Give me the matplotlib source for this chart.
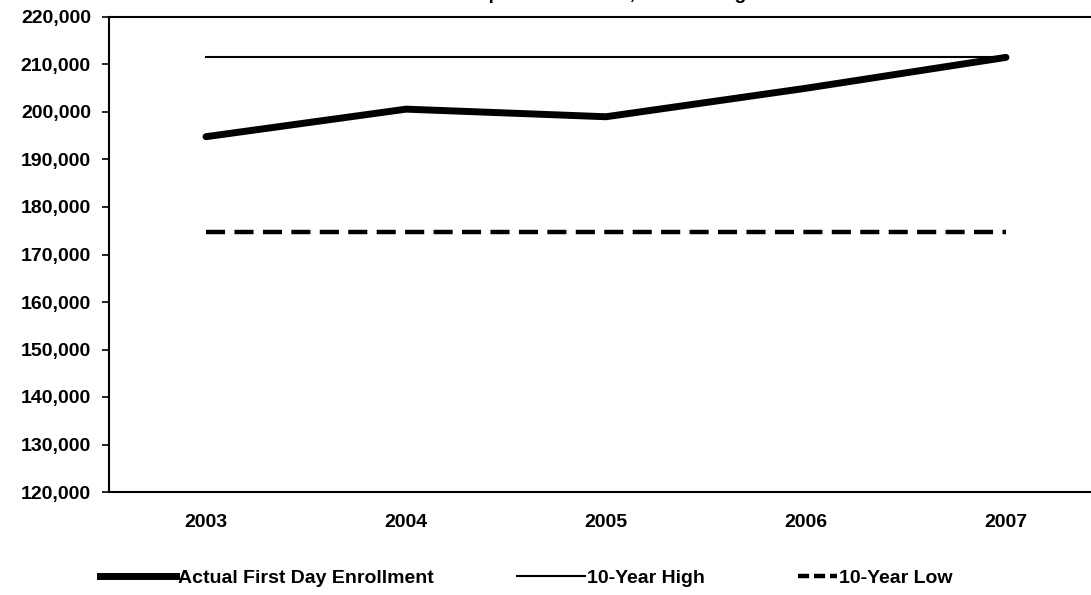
import matplotlib
matplotlib.use("Agg")
import matplotlib.pyplot as plt
from matplotlib.ticker import FuncFormatter
from matplotlib.lines import Line2D

years = ["2003", "2004", "2005", "2006", "2007"]
actual = [194800, 200600, 199000, 205000, 211500]
ten_year_high = [211500, 211500, 211500, 211500, 211500]
ten_year_low = [174800, 174800, 174800, 174800, 174800]

plt.rcParams['font.family'] = ['Liberation Sans', 'DejaVu Sans']
plt.rcParams['font.weight'] = 'bold'

W, H = 1091, 595
fig = plt.figure(figsize=(W / 100, H / 100), dpi=100)
# axes box in pixels: left 109, top 17, bottom 492, right runs off the picture
ax = fig.add_axes([109 / W, 1 - 492 / H, 1000 / W, 475 / H])

x = list(range(len(years)))
ax.plot(x, actual, color='black', lw=5, solid_capstyle='round', solid_joinstyle='round')
ax.plot(x, ten_year_high, color='black', lw=1.5)
ax.plot(x, ten_year_low, color='black', lw=3.2, dashes=(4.3, 2.1))

ax.set_xlim(-0.485, 4.515)
ax.set_ylim(120000, 220000)
ax.set_yticks(range(120000, 220001, 10000))
ax.yaxis.set_major_formatter(FuncFormatter(lambda v, p: f"{int(v):,}"))
ax.set_xticks(x)
ax.set_xticklabels(years)
ax.tick_params(axis='x', length=0, pad=16, labelsize=14)
ax.tick_params(axis='y', length=5, width=1.2, direction='out', pad=8, labelsize=14)
for s in ax.spines.values():
    s.set_linewidth(1.5)
ax.spines['right'].set_visible(False)

# title is cut off at the top of the original picture
fig.text(590 / W, 1 + 1 / H, "Enrollment Compared to Actual, 10-Year High and Low",
         ha='center', va='baseline', fontsize=14, fontweight='bold')

# legend: three entries, each with its own handle length
entries = [
    (Line2D([], [], color='black', lw=5), "Actual First Day Enrollment", 100, 3.9),
    (Line2D([], [], color='black', lw=1.5), "10-Year High", 517, 3.5),
    (Line2D([], [], color='black', lw=3.2, dashes=(2.5, 1.1)), "10-Year Low", 798, 2.0),
]
for h, lab, px, hl in entries:
    fig.legend([h], [lab], loc='center left', bbox_to_anchor=(px / W, 1 - 578 / H),
               frameon=False, handlelength=hl, handletextpad=0.1, borderpad=0,
               borderaxespad=0, prop={'weight': 'bold', 'size': 14})

fig.savefig("out.png", dpi=100)
